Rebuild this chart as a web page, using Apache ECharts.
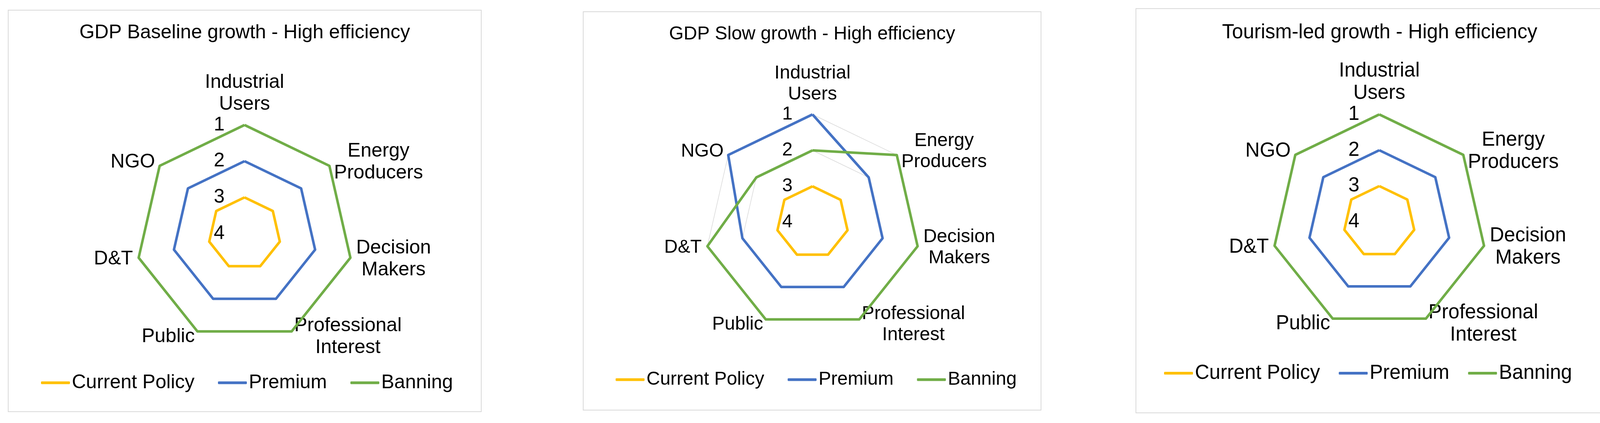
<!DOCTYPE html>
<html>
<head>
<meta charset="utf-8">
<script src="https://cdn.jsdelivr.net/npm/echarts@6/dist/echarts.min.js"></script>
<style>
  html, body { margin: 0; padding: 0; background: #fff; }
  body { width: 4177px; height: 1083px; position: relative; overflow: hidden; }
  .panel { position: absolute; box-sizing: border-box; border: 2px solid #d9d9d9; background: #fff; }
</style>
</head>
<body>
<div id="radar-baseline" class="panel" style="left:20px;top:25px;width:1213px;height:1030px"></div>
<div id="radar-slow" class="panel" style="left:1492px;top:29px;width:1174px;height:1022px"></div>
<div id="radar-tourism" class="panel" style="left:2907px;top:21px;width:1250px;height:1037px"></div>
<script>
// stakeholder groups, clockwise from the top (as in the spreadsheet)
var categories = ['Industrial\nUsers', 'Energy\nProducers', 'Decision\nMakers',
  'Professional\nInterest', 'Public', 'D&T', 'NGO'];
var seriesNames = ['Current Policy', 'Premium', 'Banning'];
var seriesColors = ['#FFC000', '#4472C4', '#70AD47'];
var rankTicks = [1, 2, 3, 4]; // 1 = outer ring, 4 = centre

// ranks per scenario (order = categories)
var baselineCurrent = [3, 3, 3, 3, 3, 3, 3];
var baselinePremium = [2, 2, 2, 2, 2, 2, 2];
var baselineBanning = [1, 1, 1, 1, 1, 1, 1];

var slowCurrent = [3, 3, 3, 3, 3, 3, 3];
var slowPremium = [1, 2, 2, 2, 2, 2, 1];
var slowBanning = [2, 1, 1, 1, 1, 1, 2];

var tourismCurrent = [3, 3, 3, 3, 3, 3, 3];
var tourismPremium = [2, 2, 2, 2, 2, 2, 2];
var tourismBanning = [1, 1, 1, 1, 1, 1, 1];

var FONT = '"Liberation Sans", Arial, sans-serif';
var maxRank = rankTicks[rankTicks.length - 1];
var minRank = rankTicks[0];

// echarts lays indicators out counter-clockwise, the sheet goes clockwise
function toRadarOrder(arr) {
  return [arr[0]].concat(arr.slice(1).reverse());
}

function buildOption(cfg) {
  var fs = cfg.fontSize;
  var indicator = toRadarOrder(categories).map(function (name, i) {
    var ind = { name: name, min: 0, max: maxRank - minRank };
    if (i === 0) {
      ind.axisLabel = {
        show: true,
        color: '#000',
        fontSize: fs,
        fontFamily: FONT,
        margin: 51,
        formatter: function (v) { return maxRank - v; }
      };
    } else {
      ind.axisLabel = { show: false };
    }
    return ind;
  });

  return {
    animation: false,
    textStyle: { fontFamily: FONT },
    title: {
      text: cfg.title,
      left: 'center',
      top: cfg.titleTop,
      padding: 0,
      textStyle: { fontSize: fs, fontWeight: 'normal', color: '#000', fontFamily: FONT }
    },
    legend: {
      data: seriesNames,
      left: cfg.legendLeft,
      top: cfg.legendTop,
      padding: 0,
      icon: 'roundRect',
      itemWidth: 74,
      itemHeight: 7,
      itemGap: cfg.legendGap,
      selectedMode: false,
      textStyle: { fontSize: fs, color: '#000', fontFamily: FONT }
    },
    radar: {
      center: cfg.center,
      radius: cfg.radius,
      shape: 'polygon',
      splitNumber: maxRank - minRank,
      nameGap: 15,
      axisName: {
        color: '#000',
        fontFamily: FONT,
        fontSize: fs,
        lineHeight: Math.round(fs * 1.12),
        formatter: function (name) {
          return name.split('\n').map(function (l) { return '{n|' + l + '}'; }).join('\n');
        },
        rich: {
          n: { align: 'center', color: '#000', fontFamily: FONT, fontSize: fs, lineHeight: Math.round(fs * 1.12) }
        }
      },
      indicator: indicator,
      axisLine: { show: false },
      axisTick: { show: false },
      splitArea: { show: false },
      splitLine: { lineStyle: { color: '#d9d9d9', width: 1.5 } }
    },
    series: [{
      type: 'radar',
      silent: true,
      symbol: 'none',
      data: cfg.values.map(function (vals, k) {
        return {
          name: seriesNames[k],
          value: toRadarOrder(vals).map(function (v) { return maxRank - v; }),
          lineStyle: { color: seriesColors[k], width: 6.5 },
          itemStyle: { color: seriesColors[k] }
        };
      })
    }]
  };
}

var panels = [
  {
    id: 'radar-baseline', title: 'GDP Baseline growth - High efficiency', fontSize: 50,
    titleTop: 32, center: [604, 571], radius: 278, legendLeft: 83, legendTop: 928, legendGap: 60,
    values: [baselineCurrent, baselinePremium, baselineBanning]
  },
  {
    id: 'radar-slow', title: 'GDP Slow growth - High efficiency', fontSize: 48,
    titleTop: 33, center: [586, 538], radius: 276, legendLeft: 82, legendTop: 917, legendGap: 60,
    values: [slowCurrent, slowPremium, slowBanning]
  },
  {
    id: 'radar-tourism', title: 'Tourism-led growth - High efficiency', fontSize: 51,
    titleTop: 35, center: [622, 545], radius: 275, legendLeft: 71, legendTop: 907, legendGap: 48,
    values: [tourismCurrent, tourismPremium, tourismBanning]
  }
];

panels.forEach(function (p) {
  var chart = echarts.init(document.getElementById(p.id), null, { renderer: 'canvas' });
  chart.setOption(buildOption(p));
  window.addEventListener('resize', chart.resize);
});
</script>
</body>
</html>
